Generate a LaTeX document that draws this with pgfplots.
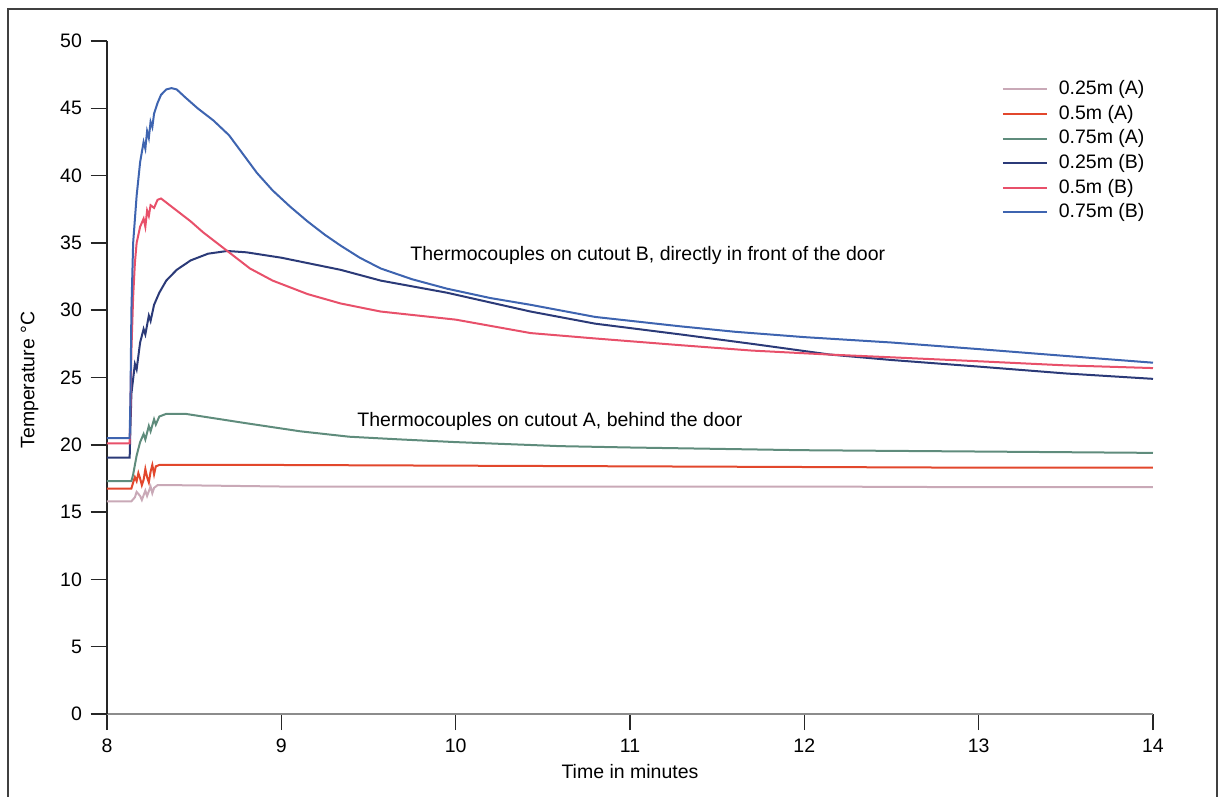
\documentclass[border=0pt]{standalone}
\usepackage{fontspec}
\setmainfont{Liberation Sans}
\usepackage{pgfplots}
\pgfplotsset{compat=1.18}

\definecolor{aQuarter}{HTML}{C9A9B7}
\definecolor{aHalf}{HTML}{E2472C}
\definecolor{aThreeQ}{HTML}{5F8C7C}
\definecolor{bQuarter}{HTML}{2B3A78}
\definecolor{bHalf}{HTML}{E8506A}
\definecolor{bThreeQ}{HTML}{3E64B0}

\newcommand{\fsz}{\fontsize{7.8}{9.4}\selectfont}

\begin{document}
\begin{tikzpicture}
\useasboundingbox (-42.8pt,-33.2pt) rectangle (445.2pt,285.6pt);
% outer frame (open at the bottom)
\draw[line width=0.8pt, black!75] (-39.6pt,-34pt) -- (-39.6pt,282pt) -- (444pt,282pt) -- (444pt,-34pt);

\begin{axis}[
    scale only axis,
    width=418.4pt,
    height=269.2pt,
    at={(0,0)}, anchor=south west,
    xmin=8, xmax=14,
    ymin=0, ymax=50,
    xtick={8,9,...,14},
    ytick={0,5,...,50},
    axis x line=bottom,
    axis y line=left,
    axis line style={-, line width=0.6pt},
    x axis line style={black!45},
    y axis line style={black!85},
    tick align=outside,
    major tick length=6.5pt,
    tick style={black!85, line width=0.6pt},
    tick label style={font=\fsz},
    /pgf/number format/assume math mode=true,
    xlabel={Time in minutes},
    ylabel={Temperature °C},
    label style={font=\fsz},
    xlabel style={at={(axis description cs:0.5,-0.086)}, anchor=center},
    ylabel style={at={(axis description cs:-0.074,0.496)}, anchor=center},
    legend style={draw=none, fill=none, font=\fsz, inner sep=0pt,
        at={(0.855,0.9465)}, anchor=north west,
        row sep=0.45pt, cells={anchor=west},
        nodes={text height=5.8pt, text depth=1.6pt, inner ysep=1pt},
        /tikz/every odd column/.append style={column sep=2.4pt}},
    legend image code/.code={\draw[#1] (0pt,0pt) -- (17.6pt,0pt);},
    every axis plot/.append style={line width=0.8pt},
    clip=false,
]
\addplot[aQuarter] coordinates {
(8,15.8)(8.14,15.8)(8.16,16.1)(8.17,16.5)(8.19,16.2)(8.20,15.9)(8.22,16.6)(8.23,16.2)
(8.25,16.9)(8.26,16.4)(8.27,16.8)(8.29,17.0)(8.4,17.0)(9,16.9)(10,16.9)(11,16.9)
(12,16.9)(13,16.85)(14,16.85)
};
\addplot[aHalf] coordinates {
(8,16.75)(8.14,16.75)(8.15,17.2)(8.16,17.6)(8.17,17.3)(8.18,17.9)(8.19,17.5)(8.20,17.0)
(8.21,17.4)(8.22,18.2)(8.23,17.6)(8.24,17.2)(8.25,18.0)(8.26,18.5)(8.27,17.8)(8.28,18.4)
(8.30,18.5)(8.5,18.5)(9,18.5)(10,18.45)(11,18.4)(12,18.35)(13,18.3)(14,18.3)
};
\addplot[aThreeQ] coordinates {
(8,17.3)(8.14,17.3)(8.15,17.8)(8.17,19.2)(8.19,20.2)(8.21,20.8)(8.22,20.4)(8.24,21.4)
(8.25,21.0)(8.27,21.9)(8.28,21.5)(8.30,22.1)(8.34,22.3)(8.45,22.3)(8.6,22.0)(8.8,21.6)
(9.11,21.0)(9.39,20.6)(9.68,20.4)(10.0,20.2)(10.6,19.9)(11.0,19.8)(11.98,19.6)(13,19.5)(14,19.4)
};
\addplot[bQuarter] coordinates {
(8,19.05)(8.13,19.05)(8.135,21.5)(8.14,23.8)(8.16,26.0)(8.17,25.6)(8.19,27.6)(8.21,28.6)
(8.22,28.2)(8.24,29.6)(8.25,29.2)(8.27,30.4)(8.30,31.3)(8.34,32.2)(8.40,33.0)(8.48,33.7)
(8.58,34.2)(8.69,34.4)(8.8,34.3)(9.0,33.9)(9.34,33.0)(9.57,32.2)(9.95,31.3)(10.43,29.9)
(10.8,29.0)(11.29,28.2)(11.7,27.5)(12.15,26.7)(12.5,26.3)(13.01,25.8)(13.5,25.3)(14,24.9)
};
\addplot[bHalf] coordinates {
(8,20.1)(8.13,20.1)(8.135,23)(8.14,27)(8.15,31)(8.16,33.5)(8.17,35.0)(8.19,36.2)
(8.21,36.8)(8.22,36.2)(8.23,37.4)(8.24,37.0)(8.25,37.8)(8.27,37.6)(8.29,38.2)(8.31,38.3)
(8.36,37.8)(8.42,37.2)(8.48,36.6)(8.55,35.8)(8.63,35.0)(8.71,34.2)(8.82,33.1)(8.95,32.2)
(9.15,31.2)(9.34,30.5)(9.57,29.9)(10,29.3)(10.43,28.3)(10.8,27.9)(11.29,27.4)(11.7,27.0)
(12.15,26.7)(12.5,26.5)(13.01,26.2)(13.5,25.9)(14,25.7)
};
\addplot[bThreeQ] coordinates {
(8,20.5)(8.13,20.5)(8.135,24)(8.14,30)(8.15,35)(8.17,38.5)(8.19,41)(8.21,42.5)
(8.22,42.0)(8.23,43.3)(8.24,42.8)(8.25,44.0)(8.26,43.6)(8.27,44.6)(8.29,45.4)(8.31,46.0)
(8.34,46.4)(8.37,46.5)(8.40,46.4)(8.45,45.8)(8.52,45.0)(8.61,44.1)(8.70,43.0)(8.78,41.6)
(8.86,40.2)(8.95,38.9)(9.05,37.7)(9.15,36.6)(9.25,35.6)(9.34,34.8)(9.45,33.9)(9.57,33.1)
(9.75,32.3)(9.95,31.6)(10.2,30.9)(10.43,30.4)(10.8,29.5)(11.29,28.8)(11.6,28.4)(12.0,28.0)
(12.5,27.6)(13.01,27.1)(13.5,26.6)(14,26.1)
};
\legend{0.25m (A), 0.5m (A), 0.75m (A), 0.25m (B), 0.5m (B), 0.75m (B)}

\node[anchor=west, font=\fsz, inner sep=0pt] at (axis cs:9.738,34.1)
    {Thermocouples on cutout B, directly in front of the door};
\node[anchor=west, font=\fsz, inner sep=0pt] at (axis cs:9.434,21.77)
    {Thermocouples on cutout A, behind the door};
\end{axis}
\end{tikzpicture}
\end{document}
